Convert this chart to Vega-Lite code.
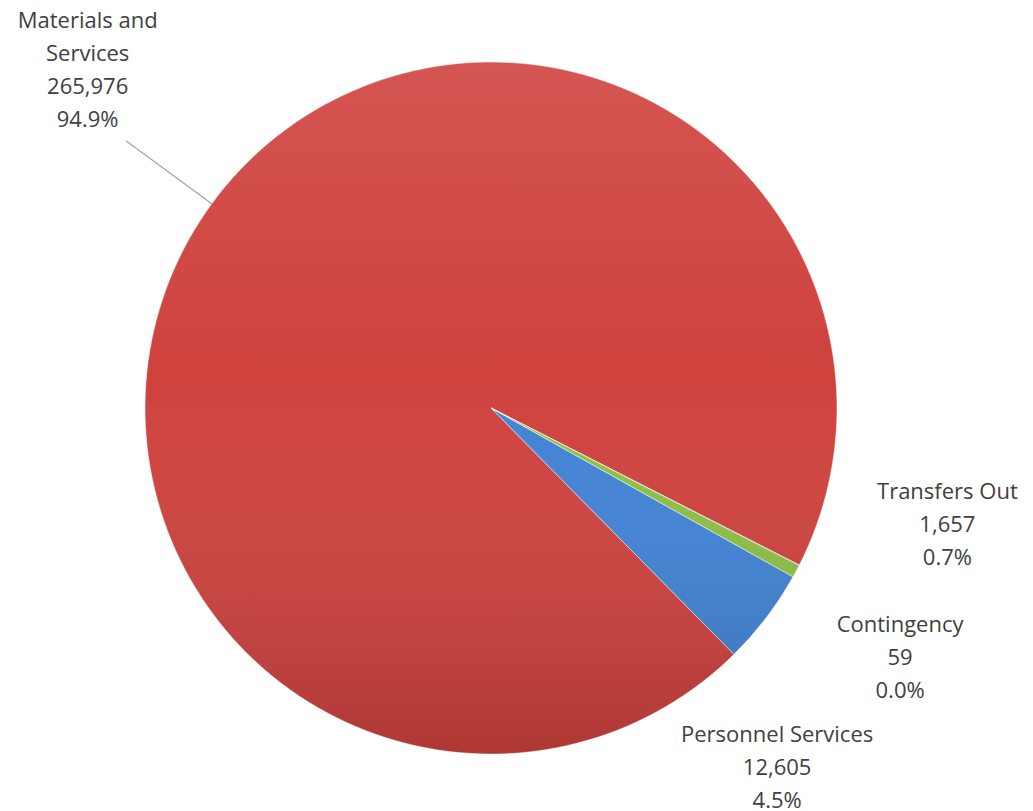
{
  "$schema": "https://vega.github.io/schema/vega-lite/v6.json",
  "width": 982,
  "height": 806,
  "autosize": "none",
  "padding": {"left": 0, "top": 5, "right": 51, "bottom": 0},
  "background": "white",
  "view": {"stroke": null},
  "config": {"text": {"font": "Open Sans", "fontSize": 22, "color": "#404040"}},
  "data": {
    "values": [
      {"category": "Materials and Services", "label": "Materials and\nServices", "value": 265976, "pct": "94.9%"},
      {"category": "Personnel Services", "label": "Personnel Services", "value": 12605, "pct": "4.5%"},
      {"category": "Contingency", "label": "Contingency", "value": 59, "pct": "0.0%"},
      {"category": "Transfers Out", "label": "Transfers Out", "value": 1657, "pct": "0.7%"}
    ]
  },
  "transform": [
    {"stack": "value", "sort": [{"field": "value", "order": "ascending"}], "groupby": [], "as": ["t0", "t1"]},
    {"calculate": "(datum.t0 + datum.t1) / 2", "as": "tm"},
    {"calculate": "datum.label + '\\n' + format(datum.value, ',') + '\\n' + datum.pct", "as": "txt"}
  ],
  "layer": [
    {
      "mark": {"type": "arc", "radius": 346, "stroke": "white", "strokeWidth": 1, "strokeOpacity": 0.5},
      "encoding": {
        "theta": {"field": "t1", "type": "quantitative", "scale": {"range": [2.042, 8.3252], "zero": true, "nice": false}},
        "theta2": {"field": "t0"},
        "color": {
          "field": "category", "type": "nominal", "legend": null,
          "scale": {
            "domain": ["Materials and Services", "Personnel Services", "Contingency", "Transfers Out"],
            "range": ["#CF423E", "#4283D6", "#7F5FA8", "#8DC044"]
          }
        }
      }
    },
    {
      "transform": [{"filter": "datum.category === 'Materials and Services'"}],
      "mark": {
        "type": "arc", "radius": 346, "theta": 0, "theta2": 6.2832,
        "fill": {
          "gradient": "linear", "x1": 0, "y1": 0, "x2": 0, "y2": 1,
          "stops": [
            {"offset": 0, "color": "rgba(255,255,255,0.10)"},
            {"offset": 0.45, "color": "rgba(255,255,255,0)"},
            {"offset": 1, "color": "rgba(0,0,0,0.16)"}
          ]
        }
      },
      "encoding": {}
    },
    {
      "transform": [{"filter": "datum.category === 'Materials and Services'"}],
      "mark": {"type": "arc", "radius": 452, "radius2": 346, "stroke": "#a6a6a6", "strokeWidth": 1.3, "fill": null},
      "encoding": {
        "theta": {"field": "tm", "type": "quantitative"},
        "theta2": {"field": "tm"}
      }
    },
    {
      "transform": [{"filter": "datum.category === 'Materials and Services'"}],
      "mark": {"type": "text", "radius": 480, "lineBreak": "\n", "lineHeight": 33, "align": "center", "baseline": "middle", "dx": -16, "dy": -104},
      "encoding": {"theta": {"field": "tm", "type": "quantitative"}, "text": {"field": "txt"}}
    },
    {
      "transform": [{"filter": "datum.category === 'Transfers Out'"}],
      "mark": {"type": "text", "radius": 420, "lineBreak": "\n", "lineHeight": 33, "align": "center", "baseline": "middle", "dx": 86, "dy": -114},
      "encoding": {"theta": {"field": "tm", "type": "quantitative"}, "text": {"field": "txt"}}
    },
    {
      "transform": [{"filter": "datum.category === 'Contingency'"}],
      "mark": {"type": "text", "radius": 420, "lineBreak": "\n", "lineHeight": 33, "align": "center", "baseline": "middle", "dx": 35, "dy": 26},
      "encoding": {"theta": {"field": "tm", "type": "quantitative"}, "text": {"field": "txt"}}
    },
    {
      "transform": [{"filter": "datum.category === 'Personnel Services'"}],
      "mark": {"type": "text", "radius": 420, "lineBreak": "\n", "lineHeight": 33, "align": "center", "baseline": "middle", "dx": -48, "dy": 73},
      "encoding": {"theta": {"field": "tm", "type": "quantitative"}, "text": {"field": "txt"}}
    }
  ]
}
